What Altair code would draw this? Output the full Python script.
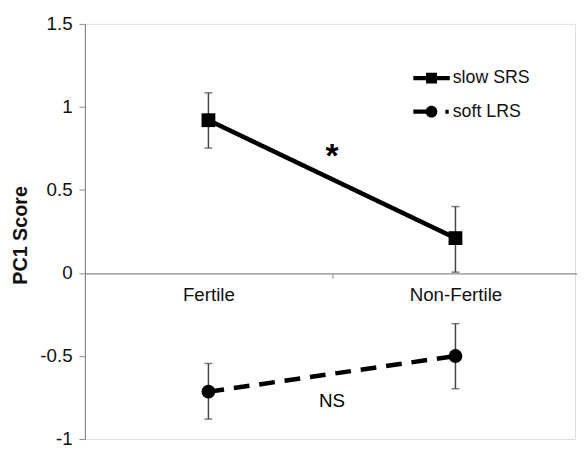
import altair as alt
import pandas as pd

categories = ["Fertile", "Non-Fertile"]
series_names = ["slow SRS", "soft LRS"]
slow_mean = [0.92, 0.21]
slow_lo = [0.752, 0.005]
slow_hi = [1.085, 0.40]
soft_mean = [-0.715, -0.50]
soft_lo = [-0.88, -0.697]
soft_hi = [-0.545, -0.305]
y_ticks = [-1, -0.5, 0, 0.5, 1, 1.5]
note_text = ["*", "NS"]
note_y = [0.70, -0.77]

rows = []
for s, m, lo, hi in [(series_names[0], slow_mean, slow_lo, slow_hi),
                     (series_names[1], soft_mean, soft_lo, soft_hi)]:
    for c, mv, l, h in zip(categories, m, lo, hi):
        rows.append({"series": s, "cat": c, "mean": mv, "lo": l, "hi": h})
df = pd.DataFrame(rows)
notes = pd.DataFrame({"cat": [categories[0]] * 2, "y": note_y, "text": note_text})

FONT = "Liberation Sans"

xscale = alt.Scale(domain=categories, range=[0, 501], paddingInner=0, paddingOuter=0)
yscale = alt.Scale(domain=[-1, 1.5], nice=False, zero=False)

x_enc = alt.X("cat:N", sort=categories, scale=xscale,
              axis=alt.Axis(title=None, orient="bottom", offset=-168, tickBand="extent",
                            labelAngle=0, labelFontSize=19, labelColor="#111", labelFont=FONT,
                            domainColor="#8c8c8c", tickColor="#8c8c8c", tickSize=5,
                            labelPadding=8, domainWidth=1.2))
y_enc = alt.Y("mean:Q", scale=yscale,
              axis=alt.Axis(title="PC1 Score", values=y_ticks, labelExpr="'' + datum.value",
                            grid=False, labelFontSize=19, labelColor="#111", labelFont=FONT,
                            domainColor="#8c8c8c", tickColor="#8c8c8c", tickSize=6,
                            labelPadding=7, domainWidth=1.2,
                            titleFont=FONT, titleFontSize=20, titleFontWeight="bold",
                            titleColor="#111", titleX=-65, titleY=214, titleBaseline="middle",
                            titleAngle=270))

base = alt.Chart(df)

err = base.mark_rule(color="#444", strokeWidth=1.5).encode(
    x=x_enc, y=alt.Y("lo:Q", scale=yscale), y2="hi:Q")
caps_lo = base.mark_tick(color="#444", thickness=1.5, size=8, orient="horizontal").encode(
    x=x_enc, y=alt.Y("lo:Q", scale=yscale))
caps_hi = base.mark_tick(color="#444", thickness=1.5, size=8, orient="horizontal").encode(
    x=x_enc, y=alt.Y("hi:Q", scale=yscale))

lines = base.mark_line(color="black", strokeWidth=4.6).encode(
    x=x_enc, y=y_enc,
    detail="series:N",
    strokeDash=alt.StrokeDash("series:N", scale=alt.Scale(domain=series_names, range=[[1, 0], [16, 10]]),
                              legend=None))

points = base.mark_point(filled=True, color="black", opacity=1).encode(
    x=x_enc, y=alt.Y("mean:Q", scale=yscale),
    shape=alt.Shape("series:N", scale=alt.Scale(domain=series_names, range=["square", "circle"]),
                    legend=None),
    size=alt.value(196))

# legend glyphs: line stub + marker, drawn as filled outlines
sq_path = "M-1,-0.115H1V0.115H-1ZM-0.3,-0.3H0.3V0.3H-0.3Z"
ci_path = ("M-1,-0.115H-0.1V0.115H-1Z"
           "M0.32,0A0.32,0.32 0 1 1 -0.32,0A0.32,0.32 0 1 1 0.32,0Z"
           "M0.76,-0.11H0.94V0.11H0.76Z")
legend_layer = alt.Chart(df).transform_filter("false").mark_point(
    filled=True, color="black", opacity=1).encode(
    x=x_enc, y=alt.Y("mean:Q", scale=yscale),
    shape=alt.Shape("series:N",
                    scale=alt.Scale(domain=series_names, range=[sq_path, ci_path]),
                    legend=alt.Legend(title=None, orient="none", legendX=332, legendY=38,
                                      symbolSize=1369, symbolFillColor="black",
                                      labelFontSize=18, labelFont=FONT, labelColor="#111",
                                      labelOffset=2, rowPadding=0, clipHeight=34, padding=0)))

note_base = alt.Chart(notes).encode(
    x=alt.X("cat:N", sort=categories, scale=xscale, bandPosition=1),
    y=alt.Y("y:Q", scale=yscale),
    text="text:N",
)
star = note_base.transform_filter(alt.datum.text == note_text[0]).mark_text(
    font=FONT, color="black", baseline="middle", align="center", fontSize=34, fontWeight="bold")
ns = note_base.transform_filter(alt.datum.text == note_text[1]).mark_text(
    font=FONT, color="black", baseline="middle", align="center", fontSize=19)

chart = alt.layer(err, caps_lo, caps_hi, lines, points, legend_layer, star, ns).resolve_scale(
    shape="independent").properties(
    width=497, height=421, autosize=alt.AutoSizeParams(type="none"),
    padding={"left": 78, "top": 13, "right": 2, "bottom": 8},
).configure_view(stroke=None).configure(background="white")

chart.save("out.html", embed_options={"renderer": "svg", "actions": False})
